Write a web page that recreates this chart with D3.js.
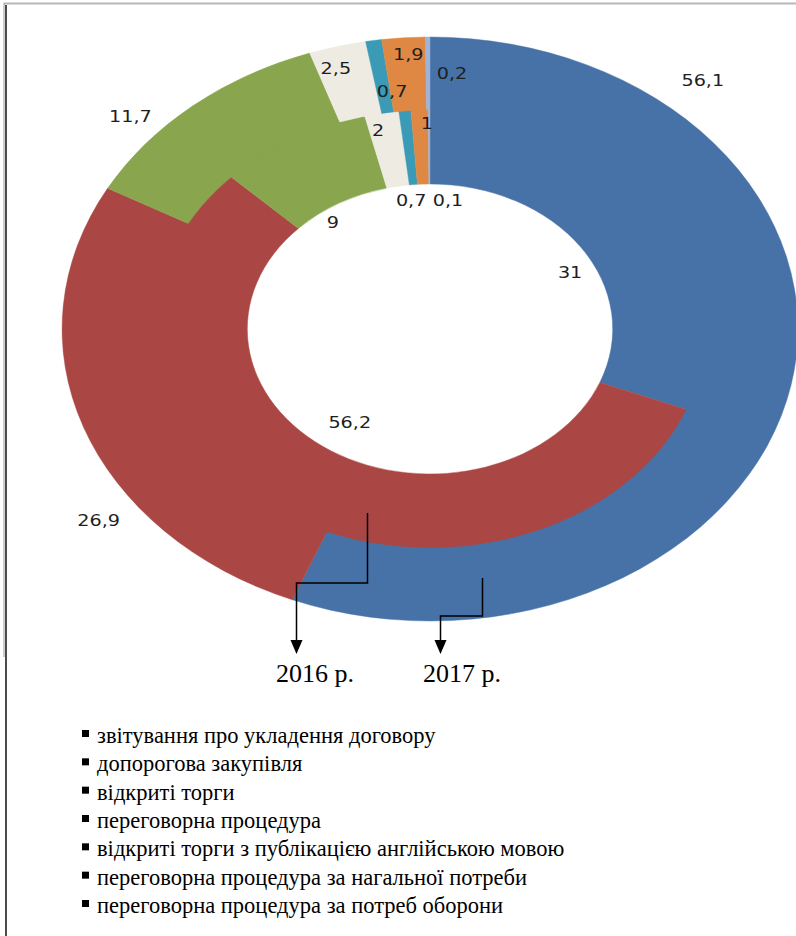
<!DOCTYPE html>
<html>
<head>
<meta charset="utf-8">
<script src="https://cdn.jsdelivr.net/npm/d3@7"></script>
<style>
  body { margin: 0; background: #fff; }
  svg { display: block; }
</style>
</head>
<body>
<div id="chart"></div>
<script>
// categories (legend order = slice order)
const categories = [
  "звітування про укладення договору",
  "допорогова закупівля",
  "відкриті торги",
  "переговорна процедура",
  "відкриті торги з публікацією англійською мовою",
  "переговорна процедура за нагальної потреби",
  "переговорна процедура за потреб оборони"
];
const values2016 = [31, 56.2, 9, 2, 0.7, 1, 0.1];
const values2017 = [56.1, 26.9, 11.7, 2.5, 0.7, 1.9, 0.2];
const yearLabels = ["2016 р.", "2017 р."];

const colors = ["#4772a8", "#aa4744", "#89a54e", "#eeece2", "#3b9ab6", "#de8843", "#9fb2da"];

// label placement: [angle in degrees clockwise from top, radius]
const labelPos2016 = [[62.8, 125], [214.3, 113], [324.3, 132], [348.3, 203], [353.4, 130], [359.3, 206], [6.3, 130]];
const labelPos2017 = [[41, 330], [234, 325], [311.8, 319], [344, 271], [352.8, 240], [356.4, 275.5], [3.9, 256.6]];

const W = 796, H = 936;
const cx = 430, cy = 329, sx = 1.26;
const rHole = 145, rMid = 219, rOuter = 292;

const fmt = v => String(v).replace(".", ",");

const svg = d3.select("#chart").append("svg")
  .attr("width", W)
  .attr("height", H);

// frame lines
svg.append("line").attr("x1", 4).attr("x2", W).attr("y1", 3.5).attr("y2", 3.5)
  .attr("stroke", "#b8b8b8").attr("stroke-width", 2);
svg.append("line").attr("x1", 4).attr("x2", 4).attr("y1", 3).attr("y2", 657)
  .attr("stroke", "#9a9a9a").attr("stroke-width", 1);
svg.append("line").attr("x1", 6).attr("x2", 6).attr("y1", 5).attr("y2", H)
  .attr("stroke", "#111").attr("stroke-width", 1.5);

const pie = d3.pie().sort(null).value(d => d);

const rings = svg.append("g")
  .attr("transform", `translate(${cx},${cy}) scale(${sx},1)`);

function drawRing(values, r0, r1) {
  const arc = d3.arc().innerRadius(r0).outerRadius(r1);
  rings.append("g")
    .selectAll("path")
    .data(pie(values))
    .enter()
    .append("path")
    .attr("d", arc)
    .attr("fill", (d, i) => colors[i])
    .attr("stroke", (d, i) => colors[i])
    .attr("stroke-width", 0.4);
}

// inner ring slightly overlaps under the outer one so no seam shows
drawRing(values2016, rHole, rMid + 2);
drawRing(values2017, rMid, rOuter);

function drawLabels(values, pos) {
  svg.append("g")
    .selectAll("text")
    .data(values)
    .enter()
    .append("text")
    .attr("transform", (d, i) => {
      const a = pos[i][0] * Math.PI / 180, r = pos[i][1];
      return `translate(${cx + r * Math.sin(a) * sx},${cy - r * Math.cos(a)}) scale(1.2,1)`;
    })
    .attr("text-anchor", "middle")
    .attr("dy", "0.36em")
    .attr("font-family", "DejaVu Sans, Verdana, sans-serif")
    .attr("font-size", "16px")
    .attr("fill", "#1e1e1e")
    .text(d => fmt(d));
}

drawLabels(values2016, labelPos2016);
drawLabels(values2017, labelPos2017);

// year pointers
const pointers = [
  { pts: [[367.5, 513], [367.5, 583], [296.5, 583], [296.5, 654]], text: [276, 682] },
  { pts: [[482.5, 578], [482.5, 616], [440.5, 616], [440.5, 654]], text: [423, 682] }
];

const line = d3.line();
pointers.forEach((p, i) => {
  const tip = p.pts[3];
  svg.append("path")
    .attr("d", line([p.pts[0], p.pts[1], p.pts[2], [tip[0], tip[1] - 13]]))
    .attr("fill", "none")
    .attr("stroke", "#000")
    .attr("stroke-width", 1.5);
  svg.append("path")
    .attr("d", `M${tip[0] - 6},${tip[1] - 14} L${tip[0] + 6},${tip[1] - 14} L${tip[0]},${tip[1]} Z`)
    .attr("fill", "#000");
  svg.append("text")
    .attr("x", p.text[0]).attr("y", p.text[1])
    .attr("font-family", "Liberation Serif, Times New Roman, serif")
    .attr("font-size", "26px")
    .attr("fill", "#000")
    .text(yearLabels[i]);
});

// legend
const legend = svg.append("g");
const legendY = d3.scalePoint().domain(categories).range([743, 913]);

legend.selectAll("rect")
  .data(categories)
  .enter()
  .append("rect")
  .attr("x", 82)
  .attr("y", d => legendY(d) - 13)
  .attr("width", 7)
  .attr("height", 7)
  .attr("fill", "#000");

legend.selectAll("text")
  .data(categories)
  .enter()
  .append("text")
  .attr("x", 97)
  .attr("y", d => legendY(d))
  .attr("font-family", "Liberation Serif, Times New Roman, serif")
  .attr("font-size", "22.5px")
  .attr("fill", "#000")
  .text(d => d);
</script>
</body>
</html>
